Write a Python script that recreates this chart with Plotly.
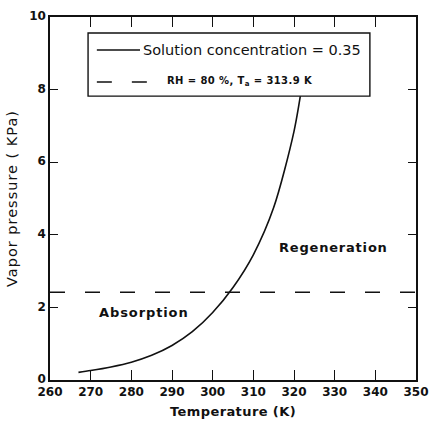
import plotly.graph_objects as go

# Vapour pressure of the desiccant solution vs. temperature
temperature_k = [267, 270, 275, 280, 285, 290, 295, 300, 305, 310, 315, 320, 322.5]
vapor_kpa = [0.21, 0.26, 0.36, 0.49, 0.68, 0.95, 1.33, 1.86, 2.55, 3.45, 4.75, 6.85, 8.5]

# Ambient air vapour pressure (RH = 80 %, Ta = 313.9 K)
air_temp_k = [260, 350]
air_vapor_kpa = [2.42, 2.42]

x_ticks = [260, 270, 280, 290, 300, 310, 320, 330, 340, 350]
y_ticks = [0, 2, 4, 6, 8, 10]

solution_label = "Solution concentration = 0.35"
air_label = "RH = 80 %, T<sub>a</sub> = 313.9 K"

FONT = "DejaVu Sans, Verdana, sans-serif"
INK = "#111"


def spaced(text, px):
    return f"<span style='letter-spacing:{px}px'>{text}</span>"


fig = go.Figure()
fig.add_trace(go.Scatter(
    x=temperature_k, y=vapor_kpa, mode="lines",
    line=dict(color=INK, width=1.6, shape="spline", smoothing=0.8),
    name=solution_label, showlegend=False,
))
fig.add_trace(go.Scatter(
    x=air_temp_k, y=air_vapor_kpa, mode="lines",
    line=dict(color=INK, width=1.5, dash="15px,20px"),
    name=air_label, showlegend=False,
))

# region labels
fig.add_annotation(x=329.6, y=3.64, text=spaced("Regeneration", 0.8), showarrow=False,
                   font=dict(family=FONT, size=13, color=INK, weight="bold"))
fig.add_annotation(x=283, y=1.85, text=spaced("Absorption", 0.9), showarrow=False,
                   font=dict(family=FONT, size=13, color=INK, weight="bold"))

# legend box (paper coordinates), drawn above the curve
box_x0, box_x1, box_y0, box_y1 = 0.104, 0.874, 0.782, 0.956
row1_y, row2_y = 0.909, 0.821
fig.add_shape(type="rect", xref="paper", yref="paper",
              x0=box_x0, x1=box_x1, y0=box_y0, y1=box_y1,
              fillcolor="white", line=dict(color=INK, width=1.4), layer="above")
fig.add_shape(type="line", xref="paper", yref="paper",
              x0=0.128, x1=0.246, y0=row1_y, y1=row1_y,
              line=dict(color=INK, width=1.6), layer="above")
fig.add_shape(type="line", xref="paper", yref="paper",
              x0=0.128, x1=0.273, y0=row2_y, y1=row2_y,
              line=dict(color=INK, width=1.5, dash="15px,20px"), layer="above")
fig.add_annotation(xref="paper", yref="paper", x=0.249, y=row1_y,
                   xanchor="left", yanchor="middle", showarrow=False,
                   text=solution_label,
                   font=dict(family=FONT, size=14.5, color=INK))
fig.add_annotation(xref="paper", yref="paper", x=0.315, y=row2_y,
                   xanchor="left", yanchor="middle", showarrow=False,
                   text=spaced(air_label, 0.4),
                   font=dict(family=FONT, size=10, color=INK, weight="bold"))

axis_common = dict(
    showline=True, linecolor=INK, linewidth=1.5, mirror="ticks",
    ticks="inside", tickwidth=1.4, tickcolor=INK,
    showgrid=False, zeroline=False, automargin=False,
    tickfont=dict(family=FONT, size=12, color=INK, weight="bold"),
)

fig.update_layout(
    width=430, height=422,
    margin=dict(l=50, r=14, t=17, b=42),
    paper_bgcolor="white", plot_bgcolor="white",
    showlegend=False,
    xaxis=dict(range=[260, 350], tickvals=x_ticks, ticklen=10,
               title=dict(text=spaced("Temperature (K)", 0.4), standoff=9,
                          font=dict(family=FONT, size=13, color=INK, weight="bold")),
               **axis_common),
    yaxis=dict(range=[0, 10], tickvals=y_ticks, ticklen=8, ticklabelshift=-1,
               title=dict(text=spaced("Vapor pressure ( KPa)", 1), standoff=8,
                          font=dict(family=FONT, size=14.5, color=INK)),
               **axis_common),
)

fig.write_html("out.html")
